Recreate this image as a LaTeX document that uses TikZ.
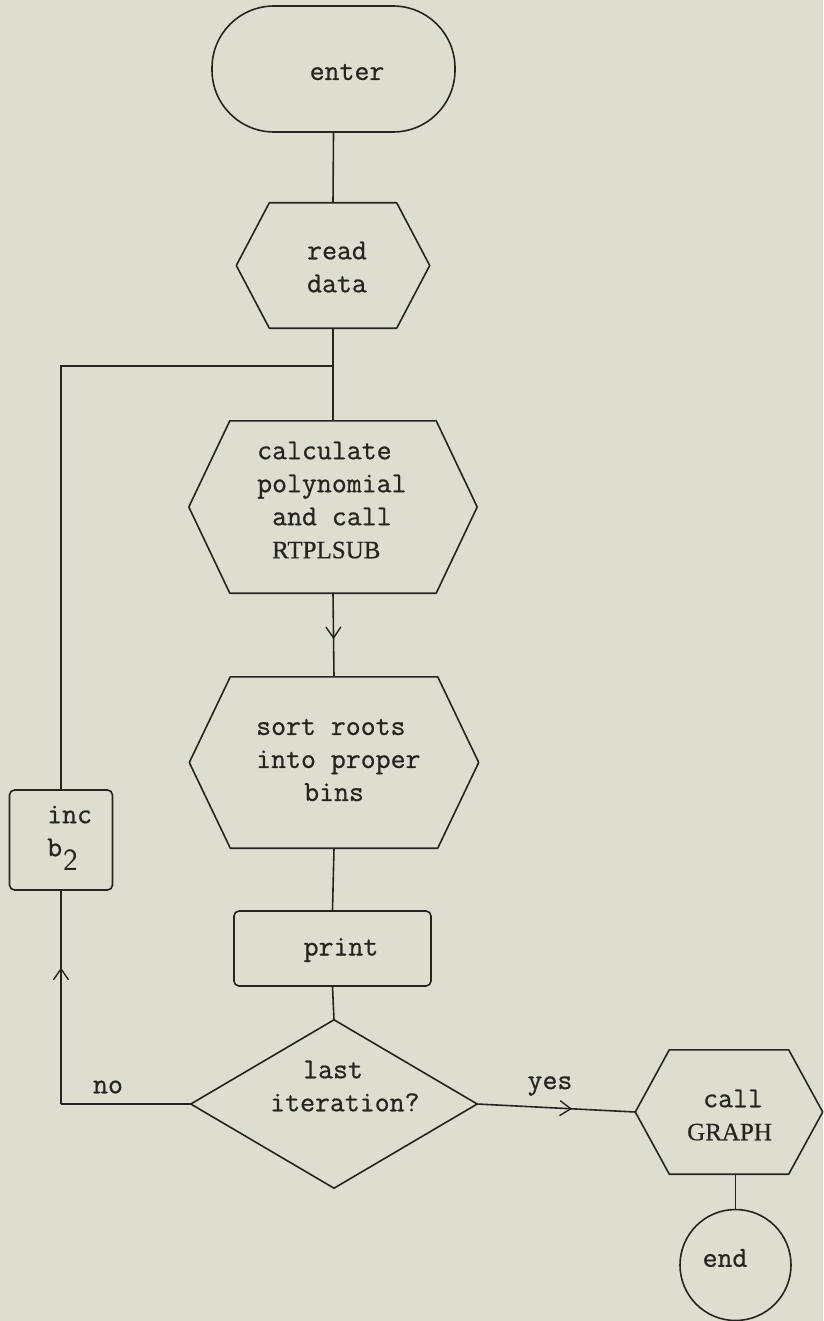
\documentclass[tikz,border=0pt]{standalone}
\usepackage{fontspec}
\usetikzlibrary{arrows.meta,decorations.markings,calc}
\newfontfamily\typewriter{Latin Modern Mono}[FakeBold=0.7]
\newfontfamily\printwheel{Liberation Serif}[FakeBold=0.5]
\definecolor{paper}{RGB}{221,222,208}
\definecolor{ink}{RGB}{38,36,32}
\begin{document}
\begin{tikzpicture}[x=1pt,y=-1pt,
  font=\fontsize{29}{33}\selectfont\typewriter,
  every node/.style={text=ink, inner sep=0pt},
  txt/.style={align=left},
  line/.style={draw=ink, line width=1.6pt},
  midarrow/.style={postaction={decorate},
    decoration={markings, mark=at position #1 with {\arrow{Straight Barb[length=11pt,width=15pt,line width=1.4pt]}}}},
  terminal/.style={line, rounded corners=62pt, minimum width=243pt, minimum height=126pt},
  procbox/.style={line, rounded corners=5pt},
  % hexagonal preparation box drawn round a plain rectangular node
  hexbox/.style={minimum width=#1, append after command={
    \pgfextra{\draw[line, line join=round]
      ([xshift=\hexinset]\tikzlastnode.north west) --
      ([xshift=-\hexinset]\tikzlastnode.north east) --
      (\tikzlastnode.east) --
      ([xshift=-\hexinset]\tikzlastnode.south east) --
      ([xshift=\hexinset]\tikzlastnode.south west) --
      (\tikzlastnode.west) -- cycle;}}},
  decision/.style={append after command={
    \pgfextra{\draw[line, line join=round]
      (\tikzlastnode.north) -- (\tikzlastnode.east) --
      (\tikzlastnode.south) -- (\tikzlastnode.west) -- cycle;}}}
]
\newcommand\namefont{\fontsize{25}{33}\selectfont\printwheel}
% paper
\fill[paper] (0,0) rectangle (823,1321);
\useasboundingbox (0,0) rectangle (823,1321);

% shapes
\node[terminal] (enter) at (333.5,69) {};
\def\hexinset{33pt}
\node[hexbox=193pt, minimum height=125pt] (read) at (333,265.5) {};
\def\hexinset{41pt}
\node[hexbox=288pt, minimum height=172pt] (calc) at (333,507) {};
\node[hexbox=289pt, minimum height=171pt] (sort) at (334,762.5) {};
\node[procbox, minimum width=197pt, minimum height=75pt] (print) at (332.5,948.5) {};
\node[decision, minimum width=286pt, minimum height=168pt] (last) at (334,1104) {};
\node[procbox, minimum width=103pt, minimum height=100pt] (inc) at (61,840) {};
\def\hexinset{34pt}
\node[hexbox=187pt, minimum height=124pt] (graph) at (729,1112) {};
\node[line, circle, minimum size=111pt] (end) at (735.5,1265) {};

% texts
\node[txt] (enterT) at (347,72) {enter};
\node[txt] (readT) at (337,267) {read\\data};
\node[txt, anchor=west] (calcT) at (257,500)
  {calculate\\polynomial\\\hspace*{15pt}and call\\\hspace*{15pt}{\namefont RTPLSUB}};
\node[txt, anchor=west] (sortT) at (256,760)
  {sort roots\\into proper\\\hspace*{48pt}bins};
\node[txt] (printT) at (341,950) {print};
\node[txt, anchor=west] (lastT) at (270,1086) {\hspace*{33pt}last\\iteration?};
\node[txt, anchor=west] (incT) at (47,838)
  {inc\\b\hspace*{1pt}\raisebox{-14pt}{\fontsize{31}{33}\selectfont\sffamily 2}};
\node[txt, anchor=west] (graphT) at (687,1115) {\hspace*{16pt}call\\{\namefont GRAPH}};
\node[txt] (endT) at (725,1258) {end};

% loop junction on the main flow line
\coordinate (join) at (333,366);
\coordinate (nocorner) at (inc.south |- last.west);

% connectors
\draw[line] (enter.south) -- (read.north);
\draw[line] (read.south) -- (calc.north);
\draw[line, midarrow=0.55] (calc.south) -- (sort.north);
\draw[line] (sort.south) -- (print.north);
\draw[line] (print.south) -- (last.north);
\draw[line] (last.west) -- (nocorner);
\draw[line, midarrow=0.64] (nocorner) -- (inc.south);
\draw[line] (inc.north) |- (join);
\draw[line, midarrow=0.6] (last.east) -- (graph.west);
\draw[line] (end.north |- graph.south) -- (end.north);

% branch labels
\node (nolbl) at (108,1087) {no};
\node (yeslbl) at (550,1086) {yes};
\end{tikzpicture}
\end{document}
